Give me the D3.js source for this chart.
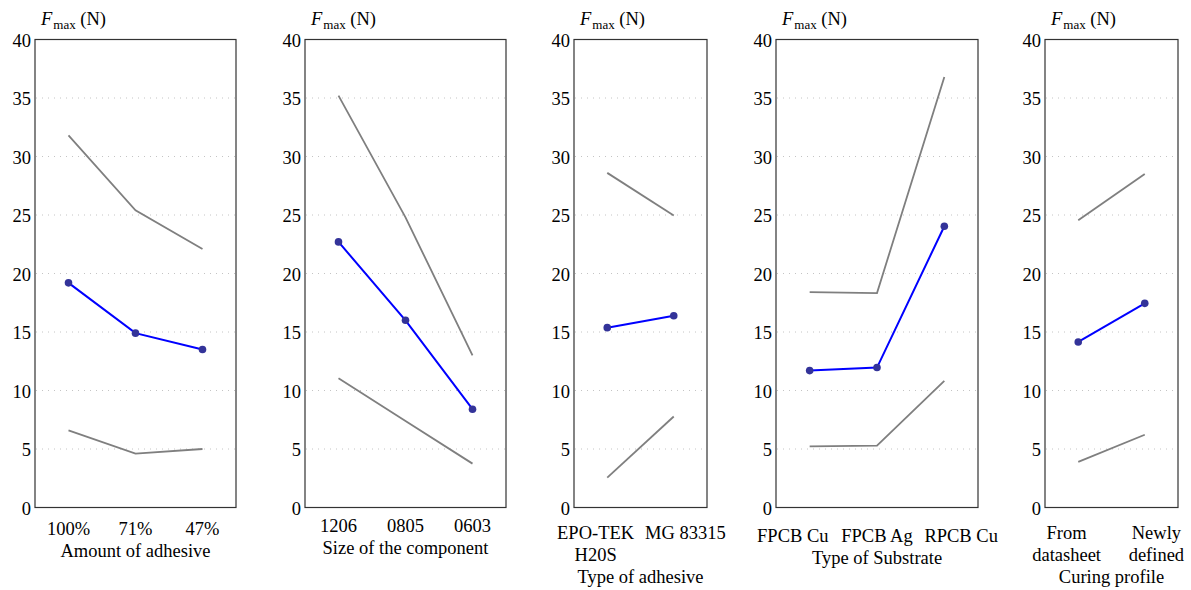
<!DOCTYPE html>
<html>
<head>
<meta charset="utf-8">
<script src="https://cdn.jsdelivr.net/npm/d3@7"></script>
<style>
  html, body { margin: 0; padding: 0; background: #fff; }
  svg { display: block; font-family: "Liberation Serif", "DejaVu Serif", serif; }
</style>
</head>
<body>
<svg id="chart" width="1191" height="590"></svg>
<script>
// ---- Data ----
const yTicks = [0, 5, 10, 15, 20, 25, 30, 35, 40];

const cat1 = ["100%", "71%", "47%"];
const upper1 = [31.8, 25.4, 22.1];
const mean1 = [19.2, 14.9, 13.5];
const lower1 = [6.6, 4.6, 5.0];

const cat2 = ["1206", "0805", "0603"];
const upper2 = [35.2, 24.8, 13.0];
const mean2 = [22.7, 16.0, 8.4];
const lower2 = [11.05, 7.4, 3.75];

const cat3 = ["EPO-TEK\nH20S", "MG 83315"];
const upper3 = [28.6, 24.95];
const mean3 = [15.37, 16.39];
const lower3 = [2.56, 7.78];

const cat4 = ["FPCB Cu", "FPCB Ag", "RPCB Cu"];
const upper4 = [18.4, 18.33, 36.8];
const mean4 = [11.7, 11.96, 24.04];
const lower4 = [5.23, 5.29, 10.83];

const cat5 = ["From\ndatasheet", "Newly\ndefined"];
const upper5 = [24.55, 28.5];
const mean5 = [14.15, 17.45];
const lower5 = [3.9, 6.22];

const axisTitles = ["Amount of adhesive", "Size of the component", "Type of adhesive", "Type of Substrate", "Curing profile"];

// ---- Layout ----
const layout = [
  { x0: 35,   x1: 236,  tickBase: 535, spread: 1.0 },
  { x0: 305,  x1: 506,  tickBase: 532, spread: 1.0 },
  { x0: 574,  x1: 707,  tickBase: 539, spread: 1.35 },
  { x0: 776,  x1: 978,  tickBase: 542, spread: 1.25 },
  { x0: 1045, x1: 1178, tickBase: 539, spread: 1.35 }
];
const panels = [
  { cats: cat1, upper: upper1, mean: mean1, lower: lower1 },
  { cats: cat2, upper: upper2, mean: mean2, lower: lower2 },
  { cats: cat3, upper: upper3, mean: mean3, lower: lower3 },
  { cats: cat4, upper: upper4, mean: mean4, lower: lower4 },
  { cats: cat5, upper: upper5, mean: mean5, lower: lower5 }
];
const yTop = 39.5, yBot = 507.5;
const lineGap = 22;
const fs = 18.5;

const svg = d3.select("#chart");
const y = d3.scaleLinear().domain([0, 40]).range([yBot, yTop]);

panels.forEach((p, i) => {
  const L = layout[i];
  const g = svg.append("g");
  const x = d3.scalePoint().domain(p.cats).range([L.x0, L.x1]).padding(0.5);
  const mid = (L.x0 + L.x1) / 2;

  // gridlines
  g.selectAll("line.grid").data(yTicks.filter(t => t > 0 && t < 40)).enter()
    .append("line")
    .attr("x1", L.x0 + 1).attr("x2", L.x1 - 1)
    .attr("y1", d => y(d)).attr("y2", d => y(d))
    .attr("stroke", "#c4c4c4").attr("stroke-width", 1)
    .attr("stroke-dasharray", "1,5");

  // y axis labels
  const yAxis = d3.axisLeft(y).tickValues(yTicks).tickSize(0).tickPadding(4).tickFormat(d3.format("d"));
  const ya = g.append("g").attr("transform", `translate(${L.x0},0)`).call(yAxis);
  ya.select(".domain").remove();
  ya.selectAll("text").attr("font-size", fs).attr("fill", "#000")
    .attr("font-family", "Liberation Serif, serif").attr("dy", "0.36em");

  // lines
  const line = d3.line().x((d, j) => x(p.cats[j])).y(d => y(d));
  g.append("path").attr("d", line(p.upper)).attr("fill", "none")
    .attr("stroke", "#7f7f7f").attr("stroke-width", 1.8);
  g.append("path").attr("d", line(p.lower)).attr("fill", "none")
    .attr("stroke", "#7f7f7f").attr("stroke-width", 1.8);
  g.append("path").attr("d", line(p.mean)).attr("fill", "none")
    .attr("stroke", "#0000ff").attr("stroke-width", 2);
  g.selectAll("circle").data(p.mean).enter().append("circle")
    .attr("cx", (d, j) => x(p.cats[j])).attr("cy", d => y(d))
    .attr("r", 3.8).attr("fill", "#333399");

  // frame
  g.append("rect").attr("x", L.x0).attr("y", yTop)
    .attr("width", L.x1 - L.x0).attr("height", yBot - yTop)
    .attr("fill", "none").attr("stroke", "#333").attr("stroke-width", 1.2);

  // x tick labels
  let maxLines = 1;
  p.cats.forEach(c => {
    const lines = c.split("\n");
    maxLines = Math.max(maxLines, lines.length);
    const cx = mid + (x(c) - mid) * L.spread;
    lines.forEach((ln, k) => {
      g.append("text").attr("x", cx).attr("y", L.tickBase + k * lineGap)
        .attr("text-anchor", "middle").attr("font-size", fs).text(ln);
    });
  });

  // axis title
  g.append("text").attr("x", mid).attr("y", L.tickBase + maxLines * lineGap)
    .attr("text-anchor", "middle").attr("font-size", fs).text(axisTitles[i]);

  // y title
  const t = g.append("text").attr("x", L.x0 + 6).attr("y", 25).attr("font-size", fs);
  t.append("tspan").attr("font-style", "italic").text("F");
  t.append("tspan").attr("font-size", 13).attr("dy", 4).attr("dx", 1).text("max");
  t.append("tspan").attr("dy", -4).text(" (N)");
});
</script>
</body>
</html>
